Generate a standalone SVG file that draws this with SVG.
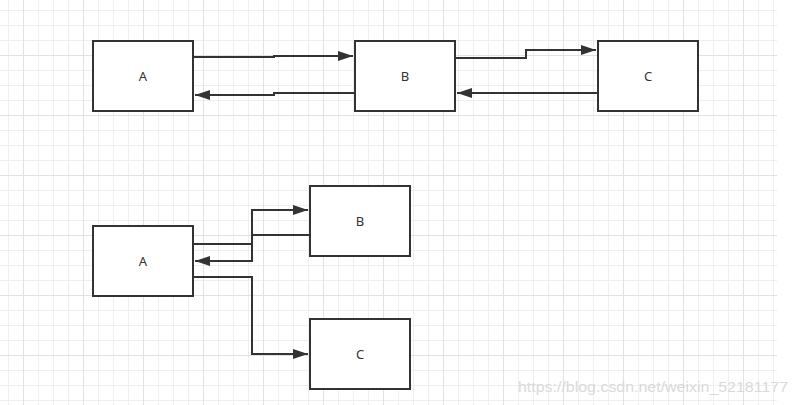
<svg xmlns="http://www.w3.org/2000/svg" width="799" height="405" viewBox="0 0 799 405">
<defs>
<pattern id="grid" width="15" height="15" patternUnits="userSpaceOnUse" x="8" y="10">
<path d="M0.5,0 V15 M0,0.5 H15" stroke="#efefef" stroke-width="1" fill="none"/>
</pattern>
<pattern id="grid4" width="60" height="60" patternUnits="userSpaceOnUse" x="23" y="55">
<path d="M0.5,0 V60 M0,0.5 H60" stroke="#e2e2e2" stroke-width="1" fill="none"/>
</pattern>
<marker id="arr" viewBox="0 0 15 10" refX="15" refY="5" markerWidth="15" markerHeight="10" markerUnits="userSpaceOnUse" orient="auto">
<path d="M0,0 L15,5 L0,10 z" fill="#333"/>
</marker>
</defs>
<style>
.box{fill:#fff;stroke:#333;stroke-width:2}
.lbl{font-family:"Noto Sans","Liberation Sans",sans-serif;font-size:13px;fill:#333;text-anchor:middle;dominant-baseline:central}
.edge{fill:none;stroke:#333;stroke-width:2}
.wm{font-family:"Liberation Sans",Arial,sans-serif;font-size:15px;fill:#dadada}
</style>
<rect width="799" height="405" fill="#fff"/>
<rect width="777" height="405" fill="url(#grid)"/>
<rect width="777" height="405" fill="url(#grid4)"/>

<g id="connectors">
<path class="edge" d="M193,57 H274 V56 H353" marker-end="url(#arr)"/>
<path class="edge" d="M355,93 H274 V95 H195" marker-end="url(#arr)"/>
<path class="edge" d="M455,58 H526 V50 H596" marker-end="url(#arr)"/>
<path class="edge" d="M598,93 H457" marker-end="url(#arr)"/>
<path class="edge" d="M193,244 H252 V210 H308" marker-end="url(#arr)"/>
<path class="edge" d="M310,235 H252 V261 H195" marker-end="url(#arr)"/>
<path class="edge" d="M193,277 H252 V354 H308" marker-end="url(#arr)"/>
</g>

<g id="top-A"><rect class="box" x="93" y="41" width="100" height="70"/><text class="lbl" x="143" y="76">A</text></g>
<g id="top-B"><rect class="box" x="355" y="41" width="100" height="70"/><text class="lbl" x="405" y="76">B</text></g>
<g id="top-C"><rect class="box" x="598" y="41" width="100" height="70"/><text class="lbl" x="648" y="76">C</text></g>
<g id="bot-A"><rect class="box" x="93" y="226" width="100" height="70"/><text class="lbl" x="143" y="261">A</text></g>
<g id="bot-B"><rect class="box" x="310" y="186" width="100" height="70"/><text class="lbl" x="360" y="221">B</text></g>
<g id="bot-C"><rect class="box" x="310" y="319" width="100" height="70"/><text class="lbl" x="360" y="354">C</text></g>

<text class="wm" x="518" y="392" textLength="270" lengthAdjust="spacingAndGlyphs">https://blog.csdn.net/weixin_52181177</text>
</svg>
